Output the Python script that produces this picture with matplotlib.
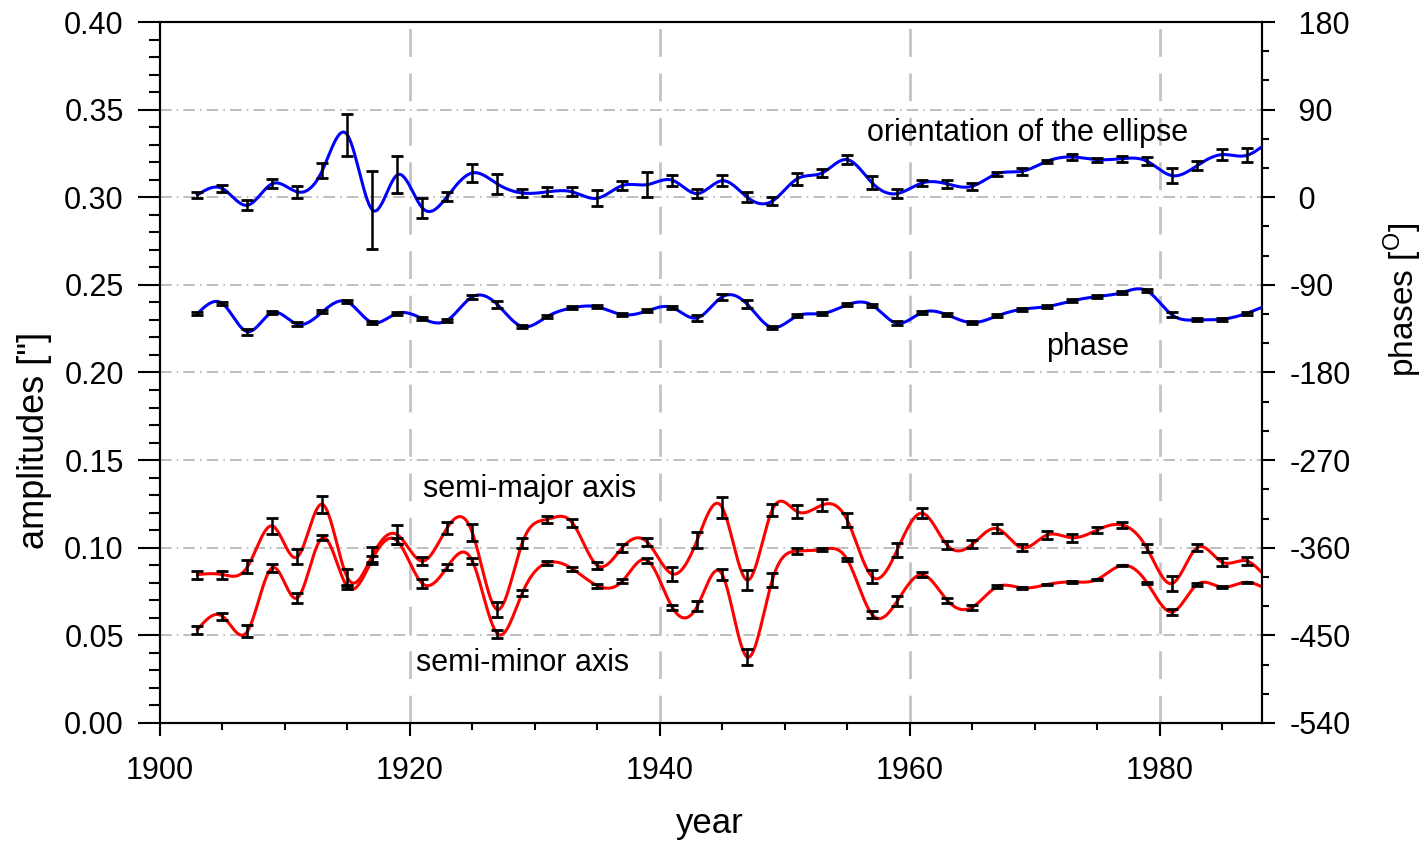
import numpy as np
import matplotlib
matplotlib.use("Agg")
import matplotlib.pyplot as plt
from matplotlib.ticker import MultipleLocator, FuncFormatter

plt.rcParams['font.family'] = ['Liberation Sans', 'DejaVu Sans']
plt.rcParams['mathtext.fontset'] = 'custom'
plt.rcParams['mathtext.rm'] = 'Liberation Sans'
plt.rcParams['axes.unicode_minus'] = False

# epochs (every two years)
years = np.arange(1903, 1988, 2)

# orientation of the ellipse [deg] and its errors
orient = [2.4, 8.9, -8.2, 14.0, 5.5, 27.7, 64.0, -13.0, 23.0, -11.0,
          1.0, 25.0, 13.7, 4.4, 5.5, 5.5, -1.0, 12.0, 13.0, 17.5,
          3.8, 17.0, 0.0, -4.0, 19.0, 25.0, 38.7, 14.7, 3.8, 14.7,
          13.7, 11.3, 24.3, 26.7, 37.0, 41.4, 38.7, 39.7, 37.0, 22.2,
          32.5, 43.8, 43.1]
orient_err = [2.7, 3.4, 5.0, 4.8, 6.3, 7.5, 22.0, 40.0, 19.0, 10.0,
              4.8, 9.6, 10.0, 3.8, 4.6, 4.6, 8.0, 5.0, 13.0, 5.8,
              4.8, 5.5, 5.0, 3.8, 6.3, 4.5, 5.0, 6.7, 5.0, 3.4,
              4.0, 3.4, 2.1, 3.4, 1.7, 3.4, 2.0, 3.0, 4.3, 7.4,
              4.3, 5.5, 7.0]

# phase [deg] and its errors
phase = [-119.5, -109.2, -138.0, -118.4, -130.4, -117.7, -107.5, -128.7, -119.1, -124.6,
         -126.3, -102.3, -110.2, -132.8, -122.5, -113.6, -112.6, -120.5, -116.7, -113.3,
         -123.9, -102.3, -109.9, -133.8, -121.9, -119.5, -110.5, -110.9, -129.4, -118.4,
         -120.8, -128.7, -121.9, -115.0, -112.3, -106.4, -102.0, -97.9, -96.2, -120.8,
         -126.0, -125.3, -119.1]
phase_err = [1.5, 1.5, 3.0, 1.5, 2.0, 1.5, 1.5, 1.5, 1.5, 1.5,
             1.5, 2.0, 4.0, 1.5, 1.5, 1.5, 1.5, 1.5, 1.5, 1.5,
             3.0, 3.0, 4.0, 1.5, 1.5, 1.5, 1.5, 1.5, 2.0, 1.5,
             1.5, 1.5, 1.5, 1.5, 1.5, 1.5, 1.5, 1.5, 1.5, 2.5,
             1.5, 1.5, 1.5]

# semi-major axis ["] and errors
major = [0.0847, 0.0847, 0.0891, 0.1124, 0.0948, 0.1248, 0.0830, 0.0956, 0.1074, 0.0924,
         0.1115, 0.1086, 0.0647, 0.1029, 0.1162, 0.1143, 0.0899, 0.1000, 0.1032, 0.0851,
         0.1044, 0.1229, 0.0815, 0.1216, 0.1206, 0.1244, 0.1158, 0.0834, 0.0987, 0.1197,
         0.1015, 0.1019, 0.1109, 0.1000, 0.1073, 0.1057, 0.1101, 0.1130, 0.0996, 0.0796,
         0.1000, 0.0918, 0.0924]
major_err = [0.0023, 0.0023, 0.0038, 0.0048, 0.0042, 0.0048, 0.0050, 0.0050, 0.0053, 0.0023,
             0.0034, 0.0048, 0.0042, 0.0029, 0.0019, 0.0023, 0.0019, 0.0023, 0.0023, 0.0038,
             0.0048, 0.0061, 0.0057, 0.0034, 0.0038, 0.0034, 0.0042, 0.0038, 0.0038, 0.0027,
             0.0023, 0.0023, 0.0027, 0.0019, 0.0023, 0.0023, 0.0015, 0.0019, 0.0023, 0.0042,
             0.0019, 0.0023, 0.0023]

# semi-minor axis ["] and errors
minor = [0.0533, 0.0609, 0.0523, 0.0886, 0.0714, 0.1057, 0.0777, 0.0935, 0.1038, 0.0796,
         0.0891, 0.0924, 0.0510, 0.0742, 0.0914, 0.0880, 0.0784, 0.0809, 0.0929, 0.0660,
         0.0666, 0.0847, 0.0376, 0.0815, 0.0981, 0.0990, 0.0933, 0.0618, 0.0695, 0.0847,
         0.0700, 0.0660, 0.0777, 0.0771, 0.0790, 0.0805, 0.0819, 0.0899, 0.0800, 0.0634,
         0.0790, 0.0775, 0.0803]
minor_err = [0.0023, 0.0019, 0.0034, 0.0023, 0.0029, 0.0015, 0.0011, 0.0019, 0.0019, 0.0023,
             0.0019, 0.0015, 0.0023, 0.0019, 0.0011, 0.0010, 0.0011, 0.0011, 0.0015, 0.0015,
             0.0029, 0.0029, 0.0048, 0.0038, 0.0015, 0.0010, 0.0006, 0.0019, 0.0029, 0.0015,
             0.0015, 0.0015, 0.0008, 0.0006, 0.0004, 0.0004, 0.0004, 0.0004, 0.0006, 0.0019,
             0.0006, 0.0004, 0.0004]

# where each curve leaves the frame at the right edge
X_END = 1988.2
edge = {'orient': 52.0, 'phase': -113.0, 'major': 0.0857, 'minor': 0.0777}


def spline_curve(x, y, n=1200):
    """natural cubic spline through the points"""
    x = np.asarray(x, float)
    y = np.asarray(y, float)
    m = len(x)
    h = np.diff(x)
    A = np.zeros((m, m))
    r = np.zeros(m)
    A[0, 0] = A[-1, -1] = 1.0
    for i in range(1, m - 1):
        A[i, i - 1] = h[i - 1]
        A[i, i] = 2 * (h[i - 1] + h[i])
        A[i, i + 1] = h[i]
        r[i] = 6 * ((y[i + 1] - y[i]) / h[i] - (y[i] - y[i - 1]) / h[i - 1])
    M = np.linalg.solve(A, r)
    xs = np.linspace(x[0], x[-1], n)
    idx = np.clip(np.searchsorted(x, xs) - 1, 0, m - 2)
    x0, x1 = x[idx], x[idx + 1]
    hh = x1 - x0
    a = (x1 - xs) / hh
    b = (xs - x0) / hh
    ys = (a * y[idx] + b * y[idx + 1]
          + ((a ** 3 - a) * M[idx] + (b ** 3 - b) * M[idx + 1]) * hh ** 2 / 6)
    return xs, ys


def curve(vals, end_val):
    return spline_curve(np.append(years, X_END), np.append(vals, end_val))


fig = plt.figure(figsize=(14.22, 8.44), dpi=100)
ax = fig.add_axes([0.1125, 0.1434, 0.775, 0.8305])
ax2 = ax.twinx()

ebkw = dict(fmt='none', ecolor='black', elinewidth=1.8, capsize=4, capthick=2.0, zorder=5)

for vals, errs, key in [(major, major_err, 'major'), (minor, minor_err, 'minor')]:
    xs, ys = curve(vals, edge[key])
    ax.plot(xs, ys, color='#ff0000', lw=2.2, zorder=3)
    ax.errorbar(years, vals, yerr=errs, **ebkw)

for vals, errs, key in [(orient, orient_err, 'orient'), (phase, phase_err, 'phase')]:
    xs, ys = curve(vals, edge[key])
    ax2.plot(xs, ys, color='#0000ff', lw=2.2, zorder=3)
    ax2.errorbar(years, vals, yerr=errs, **ebkw)

ax.set_xlim(1900, X_END)
ax.set_ylim(0, 0.40)
ax2.set_ylim(-540, 180)

ax.xaxis.set_major_locator(MultipleLocator(20))
ax.xaxis.set_minor_locator(MultipleLocator(5))
ax.yaxis.set_major_locator(MultipleLocator(0.05))
ax.yaxis.set_minor_locator(MultipleLocator(0.01))
ax.yaxis.set_major_formatter(plt.FormatStrFormatter('%.2f'))
ax2.yaxis.set_major_locator(MultipleLocator(90))
ax2.yaxis.set_minor_locator(MultipleLocator(30))
# keep the digits lined up, the minus sign hangs to the left
ax2.yaxis.set_major_formatter(FuncFormatter(lambda v, p: '%d' % v if v < 0 else ' %d' % v))

ax.tick_params(axis='both', which='major', direction='out', width=1.5, labelsize=22)
ax.tick_params(axis='y', which='major', length=16, pad=10)
ax.tick_params(axis='y', which='minor', direction='out', length=8, width=1.5)
ax.tick_params(axis='x', which='major', length=9, pad=15)
ax.tick_params(axis='x', which='minor', direction='out', length=5, width=1.5)
ax2.tick_params(axis='y', which='major', direction='out', length=9, width=1.5, labelsize=22, pad=11)
ax2.tick_params(axis='y', which='minor', direction='out', length=5, width=1.5)

for a in (ax, ax2):
    for s in a.spines.values():
        s.set_linewidth(1.5)

# grid: dash-dot at amplitude majors, long dashes at the 20-year marks
for yv in np.arange(0.05, 0.36, 0.05):
    ax.axhline(yv, color='#b4b4b4', lw=1.2, ls=(0, (7, 3, 1, 3)), zorder=1)
for xv in [1920, 1940, 1960, 1980]:
    ax.axvline(xv, color='#c4c4c4', lw=2, ls=(0, (10, 6)), zorder=1)

fig.text(710 / 1422, 1 - 823 / 844, 'year', fontsize=25, ha='center', va='center')
fig.text(35 / 1422, 1 - 440 / 844, 'amplitudes ["]', fontsize=26, ha='center', va='center',
         rotation=90)
fig.text(1403 / 1422, 1 - 300 / 844, r'phases [$^{\mathrm{O}}$]', fontsize=24, ha='center',
         va='center', rotation=90)

ax.text(1969.4, 0.3367, 'orientation of the ellipse', fontsize=22, ha='center', va='center')
ax.text(1974.2, 0.2146, 'phase', fontsize=22, ha='center', va='center')
ax.text(1929.6, 0.1335, 'semi-major axis', fontsize=22, ha='center', va='center')
ax.text(1929.0, 0.0342, 'semi-minor axis', fontsize=22, ha='center', va='center')

fig.savefig('out.png', dpi=100)
